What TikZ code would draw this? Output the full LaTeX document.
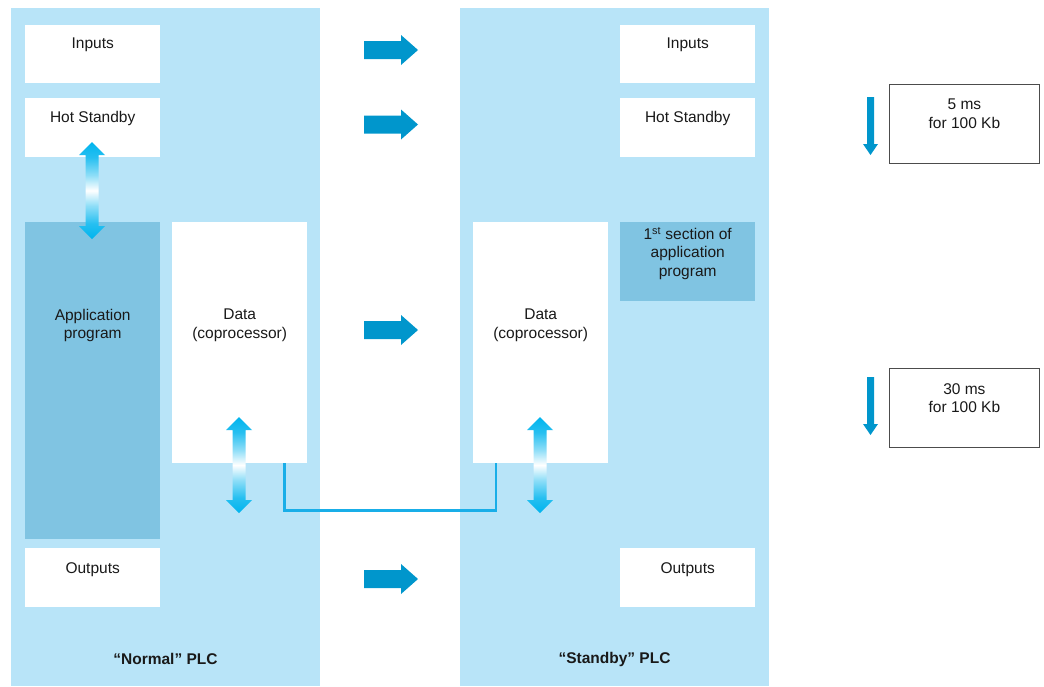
\documentclass[tikz,border=0pt]{standalone}
\usepackage{fontspec}
\setmainfont{Liberation Sans}
\usetikzlibrary{positioning, calc}
\definecolor{panelblue}{HTML}{B8E4F8}
\definecolor{progblue}{HTML}{80C4E2}
\definecolor{arrblue}{HTML}{0096CC}
\definecolor{gradcyan}{HTML}{00B4EE}
\definecolor{linkcyan}{HTML}{19AEE8}
\pgfdeclareverticalshading{dblshade}{100bp}{color(0bp)=(gradcyan); color(25bp)=(gradcyan);
  color(33bp)=(gradcyan!85!white); color(42bp)=(gradcyan!45!white); color(50bp)=(white);
  color(58bp)=(gradcyan!45!white); color(67bp)=(gradcyan!85!white); color(75bp)=(gradcyan); color(100bp)=(gradcyan)}

\begin{document}
\begin{tikzpicture}[x=1pt,y=-1pt,font=\fontsize{15.5}{18.5}\selectfont,
  pnl/.style={fill=panelblue,draw=none,anchor=north west,inner sep=0,minimum width=309,minimum height=678},
  box/.style={fill=white,draw=none,anchor=north west,inner sep=0,minimum width=135},
  prg/.style={box,fill=progblue},
  txt/.style={inner sep=0,align=center,text=black!90},
  tbox/.style={draw=black!70,line width=0.8pt,anchor=north west,inner sep=0,minimum width=150,minimum height=79},
  blk/.style={fill=arrblue},
  link/.style={draw=linkcyan,line width=2.5pt},
  node distance=13pt]
  \useasboundingbox (0,0) rectangle (1044,686);
  % the two PLCs
  \node[pnl](pN) at (11,8){};
  \node[pnl](pS) at (460,8){};
  \node[box,minimum height=58](inN) at (25,25){};
  \node[box,minimum height=59](hsN) at (25,98){};
  \node[prg,minimum height=317](apN) at (25,222){};
  \node[box,minimum height=241](daN) at (172,222){};
  \node[box,minimum height=59](ouN) at (25,548){};
  \node[box,minimum height=58](inS) at (620,25){};
  \node[box,minimum height=59](hsS) at (620,98){};
  \node[box,minimum height=241](daS) at (473,222){};
  \node[prg,minimum height=79](seS) at (620,222){};
  \node[box,minimum height=59](ouS) at (620,548){};
  \node[txt,below=of inN.north](tinN){Inputs};
  \node[txt,below=of hsN.north](thsN){Hot Standby};
  \node[txt,below=87pt of apN.north](tapN){Application\\program};
  \node[txt,below=87pt of daN.north](tdaN){Data\\(coprocessor)};
  \node[txt,below=14pt of ouN.north](touN){Outputs};
  \node[txt,below=of inS.north](tinS){Inputs};
  \node[txt,below=of hsS.north](thsS){Hot Standby};
  \node[txt,below=87pt of daS.north](tdaS){Data\\(coprocessor)};
  \node[txt,below=5pt of seS.north](tseS){1\textsuperscript{st} section of\\application\\program};
  \node[txt,below=14pt of ouS.north](touS){Outputs};
  \node[txt,font=\fontsize{15.5}{18.5}\selectfont\bfseries](lN) at (165.5,659){“Normal” PLC};
  \node[txt,font=\fontsize{15.5}{18.5}\selectfont\bfseries](lS) at (614.5,659){“Standby” PLC};
  % transfer arrows
  \foreach \y in {50,124.5,330,579}
    \fill[blk] (364,\y-9) -- (401,\y-9) -- (401,\y-15) -- (418,\y) -- (401,\y+15) -- (401,\y+9) -- (364,\y+9) -- cycle;
  % exchange arrows
  \foreach \x/\a/\b in {92/142/239,239/417/513,540/417/513}
    \shade[shading=dblshade]
      (\x,\a) -- (\x+13,\a+13) -- (\x+6.5,\a+13) -- (\x+6.5,\b-13) -- (\x+13,\b-13) -- (\x,\b)
      -- (\x-13,\b-13) -- (\x-6.5,\b-13) -- (\x-6.5,\a+13) -- (\x-13,\a+13) -- cycle;
  % link between coprocessors
  \draw[link] ($(daN.south east)+(-23,0)$) -- ++(0,47) -| ($(daS.south west)+(23,0)$);
  % times
  \node[tbox](t1) at (889,84){};
  \node[tbox](t2) at (889,368){};
  \node[txt,below=15pt of t1.north](tt1){5 ms\\for 100 Kb};
  \node[txt,below=15pt of t2.north](tt2){30 ms\\for 100 Kb};
  \foreach \y in {97,377}
    \fill[blk] (867,\y) -- (874,\y) -- (874,\y+47) -- (878,\y+47) -- (870.5,\y+58) -- (863,\y+47) -- (867,\y+47) -- cycle;
\end{tikzpicture}
\end{document}
